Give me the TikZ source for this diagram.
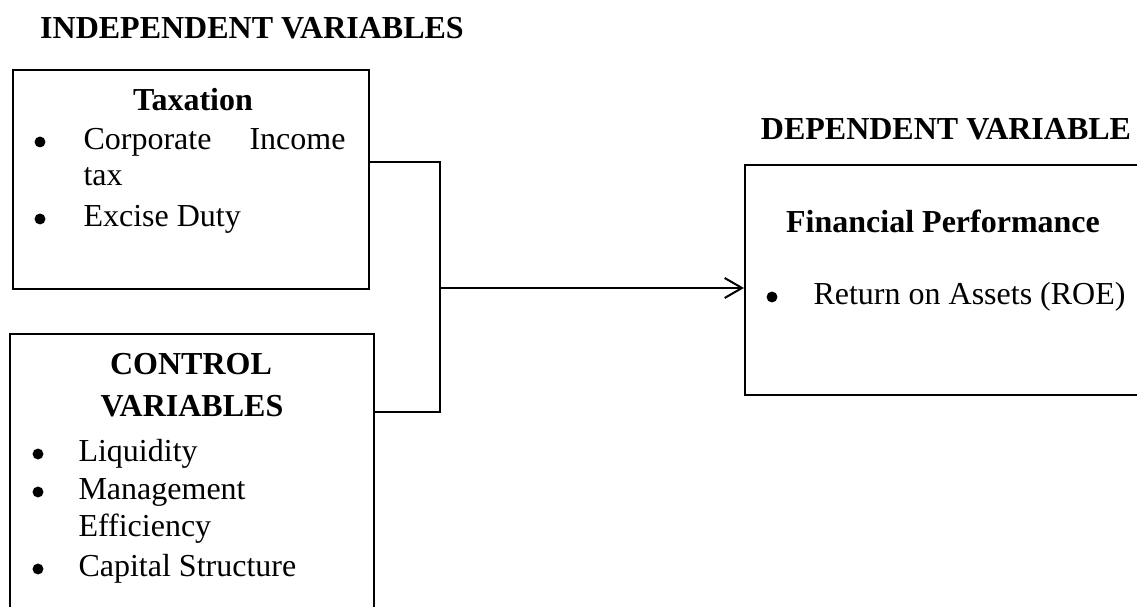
\documentclass[tikz,border=0pt]{standalone}
\usepackage{fontspec}
\setmainfont{Liberation Serif}
\usepackage{tikz}
\usetikzlibrary{positioning,arrows.meta}

\begin{document}
\begin{tikzpicture}[x=0.375pt,y=-0.375pt,
  every node/.style={inner sep=0pt,font=\fontsize{12}{14.4}\selectfont},
  varbox/.style={draw,line width=0.75pt,anchor=north west},
  head/.style={anchor=base,font=\fontsize{12}{14.4}\selectfont\bfseries},
  item/.style={anchor=base west},
  bul/.style={circle,fill,minimum size=4.1pt},
  link/.style={line width=0.4pt},
  flow/.style={line width=0.75pt,-{Straight Barb[length=6.5pt,width=7.5pt]}}]
  \useasboundingbox (0,0) rectangle (1137,607);
  \clip (0,0) rectangle (1137,607);

  % headings
  \node[head] (indephead) at (252,39) {INDEPENDENT VARIABLES};
  \node[head] (dephead) at (946,140) {DEPENDENT VARIABLE};

  % boxes
  \node[varbox,minimum width=133.5pt,minimum height=82.1pt] (tax) at (12,69) {};
  \node[varbox,minimum width=136.5pt,minimum height=120pt] (ctrl) at (9,333) {};
  \node[varbox,minimum width=170pt,minimum height=86.25pt] (dep) at (744,164) {};

  % taxation
  \node[head] (taxhead) at (193,111) {Taxation};
  \node[bul] (taxb1) at (40,142) {};
  \node[item] (tax1) at (83,150) {\makebox[98.25pt][s]{Corporate Income}};
  \node[item] (tax2) at (83,186) {tax};
  \node[bul] (taxb2) at (40,219) {};
  \node[item] (tax3) at (83,227) {Excise Duty};

  % control variables
  \node[head] (ctrlhead1) at (191,375) {CONTROL};
  \node[head] (ctrlhead2) at (192,417) {VARIABLES};
  \node[bul] (ctrlb1) at (38,454) {};
  \node[item] (ctrl1) at (78,462) {Liquidity};
  \node[bul] (ctrlb2) at (38,492) {};
  \node[item] (ctrl2) at (78,500) {Management};
  \node[item] (ctrl3) at (78,537) {Efficiency};
  \node[bul] (ctrlb3) at (38,569) {};
  \node[item] (ctrl4) at (78,577) {Capital Structure};

  % dependent variable
  \node[head] (dephead2) at (943,233) {Financial Performance};
  \node[bul] (depb1) at (772,297) {};
  \node[item] (dep1) at (813,305) {Return on Assets (ROE)};

  % connectors
  \coordinate (jtop) at (440,162);
  \coordinate (jbot) at (440,412);
  \coordinate (jmid) at (440,288);
  \draw[link] (tax.east |- jtop) -- (jtop) -- (jbot) -- (ctrl.east |- jbot);
  \draw[flow] (jmid) -- (dep.west |- jmid);
\end{tikzpicture}
\end{document}
